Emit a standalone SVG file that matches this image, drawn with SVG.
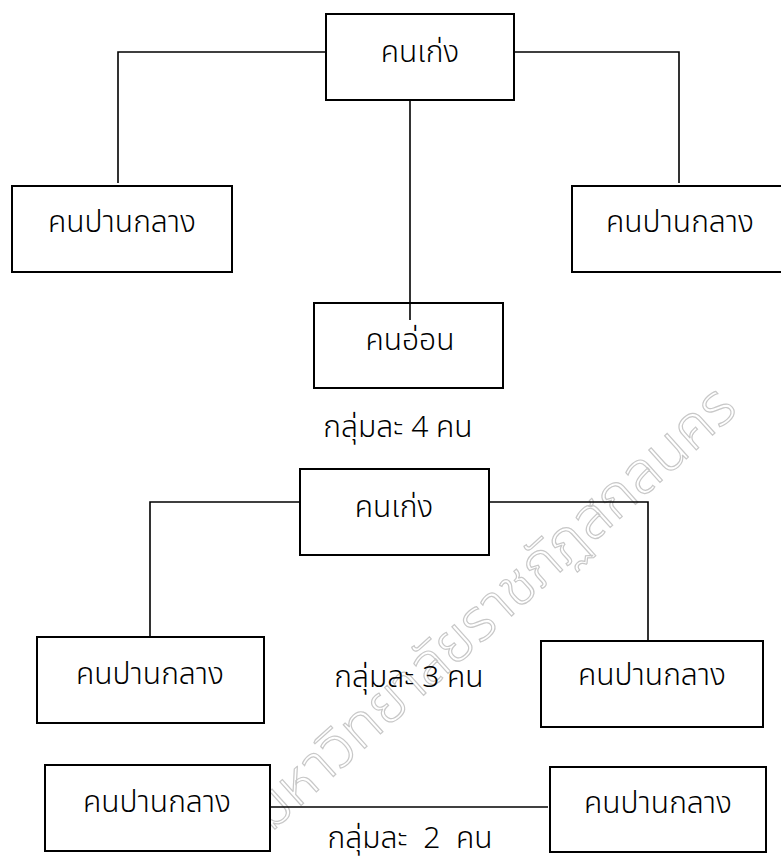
<svg xmlns="http://www.w3.org/2000/svg" width="781" height="860" viewBox="0 0 781 860">
<style>
.box{fill:#fff;stroke:#000;stroke-width:2}
.con{fill:none;stroke:#000;stroke-width:1.6}
.t{font-family:"Noto Sans Thai","Noto Sans","DejaVu Sans",sans-serif;font-size:30px;font-weight:300;fill:#000;text-anchor:middle;white-space:pre}
.wm{font-family:"Noto Sans Thai","Noto Sans","DejaVu Sans",sans-serif;font-size:58px;font-weight:300;fill:none;stroke:#c8c8c8;stroke-width:1.2;text-anchor:middle}
</style>
<rect width="781" height="860" fill="#fff"/>
<text class="wm" transform="translate(505,622) rotate(-42)">มหาวิทยาลัยราชภัฏสกลนคร</text>
<g id="connectors">
<path class="con" d="M326,52 H118 V183"/>
<path class="con" d="M514,52 H679 V183"/>
<path class="con" d="M410,100 V320"/>
<path class="con" d="M300,502 H150 V637"/>
<path class="con" d="M489,502 H648 V640"/>
<path class="con" d="M270,807 H548"/>
</g>
<g id="n4_top"><rect class="box" x="326" y="14" width="188" height="86"/><text class="t" x="420" y="62">คนเก่ง</text></g>
<g id="n4_left"><rect class="box" x="12" y="186" width="220" height="86"/><text class="t" x="122" y="232">คนปานกลาง</text></g>
<g id="n4_right"><rect class="box" x="572" y="186" width="215" height="86"/><text class="t" x="680" y="232">คนปานกลาง</text></g>
<g id="n4_bottom"><rect class="box" x="314" y="303" width="189" height="85"/><text class="t" x="410" y="350">คนอ่อน</text></g>
<path id="connector_center_overlap" class="con" d="M410,303 V320"/>
<text id="label4" class="t" x="398" y="437">กลุ่มละ 4 คน</text>
<g id="n3_top"><rect class="box" x="300" y="469" width="189" height="86"/><text class="t" x="394" y="517">คนเก่ง</text></g>
<g id="n3_left"><rect class="box" x="37" y="637" width="227" height="86"/><text class="t" x="150" y="684">คนปานกลาง</text></g>
<g id="n3_right"><rect class="box" x="541" y="641" width="222" height="86"/><text class="t" x="652" y="685">คนปานกลาง</text></g>
<text id="label3" class="t" x="409" y="687">กลุ่มละ 3 คน</text>
<g id="n2_left"><rect class="box" x="45" y="765" width="225" height="86"/><text class="t" x="157" y="812">คนปานกลาง</text></g>
<g id="n2_right"><rect class="box" x="550" y="767" width="216" height="85"/><text class="t" x="658" y="813">คนปานกลาง</text></g>
<text id="label2" class="t" x="410" y="848">กลุ่มละ  2  คน</text>
</svg>
